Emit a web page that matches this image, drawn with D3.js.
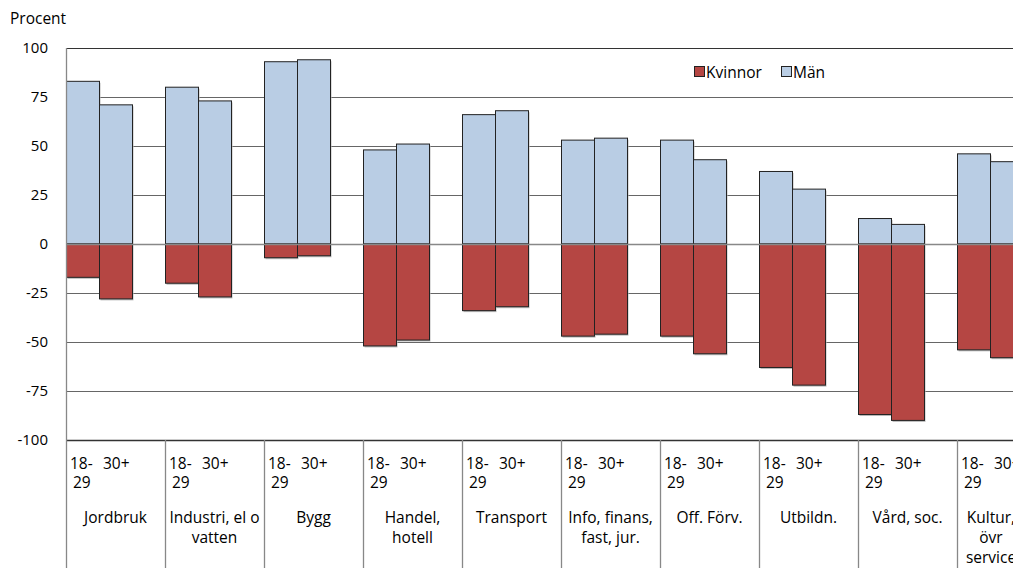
<!DOCTYPE html>
<html>
<head>
<meta charset="utf-8">
<script src="https://cdn.jsdelivr.net/npm/d3@7"></script>
<style>
html,body{margin:0;padding:0;background:#fff;overflow:hidden;}
svg{display:block;}
text{font-family:"Open Sans", Lato, sans-serif;fill:#000;}
</style>
</head>
<body>
<script>
const categories = ["Jordbruk","Industri, el o vatten","Bygg","Handel, hotell","Transport","Info, finans, fast, jur.","Off. Förv.","Utbildn.","Vård, soc.","Kultur, övr service"];
const categoryLines = [["Jordbruk"],["Industri, el o","vatten"],["Bygg"],["Handel,","hotell"],["Transport"],["Info, finans,","fast, jur."],["Off. Förv."],["Utbildn."],["Vård, soc."],["Kultur,","övr","service"]];
const ageGroups = ["18-29","30+"];
const ageLabelLines = [["18-","29"],["30+"]];
const man1829 = [83,80,93,48,66,53,53,37,13,46];
const man30   = [71,73,94,51,68,54,43,28,10,42];
const kv1829  = [-17,-20,-7,-52,-34,-47,-47,-63,-87,-54];
const kv30    = [-28,-27,-6,-49,-32,-46,-56,-72,-90,-58];
const yTicks = [100,75,50,25,0,-25,-50,-75,-100];
const seriesNames = ["Kvinnor","Män"];
const colors = {"Kvinnor":"#B54643","Män":"#B9CDE4"};

(function(){
const W = 1013, H = 568;
const svg = d3.select("body").append("svg").attr("width",W).attr("height",H);

const pL = 66, pR = 1056, pT = 48, pB = 440;
const x = d3.scaleBand().domain(categories).range([pL,pR]).padding(0);
const slot = d3.scaleBand().domain([...ageGroups,"_"]).range([0,x.bandwidth()]).padding(0);
const y = d3.scaleLinear().domain([-100,100]).range([pB,pT]);

svg.append("g").selectAll("line").data(yTicks.filter(d=>d!==0)).join("line")
  .attr("x1",pL).attr("x2",pR)
  .attr("y1",d=>Math.round(y(d))+0.5).attr("y2",d=>Math.round(y(d))+0.5)
  .attr("stroke",d=>(d===100||d===-100)?"#333":"#666").attr("stroke-width",1.2);

svg.append("g").selectAll("text").data(yTicks).join("text")
  .attr("x",48).attr("y",d=>y(d)+5).attr("text-anchor","end")
  .style("font-size","15px").text(d=>d);

svg.append("text").attr("x",10).attr("y",24).style("font-size","15.5px").text("Procent");

const rows = [];
categories.forEach((c,i)=>{
  rows.push({c, age:ageGroups[0], s:"Män", v:man1829[i]});
  rows.push({c, age:ageGroups[1], s:"Män", v:man30[i]});
  rows.push({c, age:ageGroups[0], s:"Kvinnor", v:kv1829[i]});
  rows.push({c, age:ageGroups[1], s:"Kvinnor", v:kv30[i]});
});
const bars = svg.append("g");
bars.selectAll("rect.sh").data(rows).join("rect").attr("class","sh")
  .attr("x",d=>x(d.c)+slot(d.age)+1.5)
  .attr("y",d=>Math.min(y(d.v),y(0))+1.5)
  .attr("width",slot.bandwidth())
  .attr("height",d=>Math.abs(y(d.v)-y(0)))
  .attr("fill","#bbb");
bars.selectAll("rect.b").data(rows).join("rect").attr("class","b")
  .attr("x",d=>x(d.c)+slot(d.age)+0.5)
  .attr("y",d=>Math.min(y(d.v),y(0)))
  .attr("width",slot.bandwidth())
  .attr("height",d=>Math.abs(y(d.v)-y(0)))
  .attr("fill",d=>colors[d.s]).attr("stroke","#222").attr("stroke-width",1);

svg.append("line").attr("x1",pL).attr("x2",pR).attr("y1",Math.round(y(0))+0.5).attr("y2",Math.round(y(0))+0.5)
  .attr("stroke","#888").attr("stroke-width",1.3);
svg.append("line").attr("x1",pL).attr("x2",pR).attr("y1",Math.round(y(-100))+0.5).attr("y2",Math.round(y(-100))+0.5)
  .attr("stroke","#333").attr("stroke-width",1.3);
svg.append("line").attr("x1",pL+0.5).attr("x2",pL+0.5).attr("y1",pT).attr("y2",H)
  .attr("stroke","#888").attr("stroke-width",1.3);
svg.append("g").selectAll("line").data(categories.slice(1)).join("line")
  .attr("x1",d=>Math.round(x(d))+0.5).attr("x2",d=>Math.round(x(d))+0.5)
  .attr("y1",pB).attr("y2",H).attr("stroke","#888").attr("stroke-width",1.3);

const ag = svg.append("g");
categories.forEach(c=>{
  ageGroups.forEach((a,j)=>{
    const t = ag.append("text").attr("x",x(c)+slot(a)+4).attr("y",469).style("font-size","15.5px");
    ageLabelLines[j].forEach((ln,k)=>{
      t.append("tspan").attr("x",x(c)+slot(a)+4+(k>0?3:0)).attr("dy",k===0?0:19).text(ln);
    });
  });
});
const cg = svg.append("g");
categories.forEach((c,i)=>{
  const cx = Math.min(x(c)+x.bandwidth()/2, W-22);
  const t = cg.append("text").attr("x",cx).attr("y",523)
    .attr("text-anchor","middle").style("font-size","15.5px");
  categoryLines[i].forEach((ln,k)=>{
    t.append("tspan").attr("x",cx).attr("dy",k===0?0:20).text(ln);
  });
});

const lg = svg.append("g");
const lx = [694,781];
seriesNames.forEach((s,i)=>{
  lg.append("rect").attr("x",lx[i]+0.5).attr("y",66.5).attr("width",10).attr("height",10)
    .attr("fill",colors[s]).attr("stroke","#222");
  lg.append("text").attr("x",lx[i]+12).attr("y",77.5).style("font-size","15.5px").text(s);
});
})();
</script>
</body>
</html>
